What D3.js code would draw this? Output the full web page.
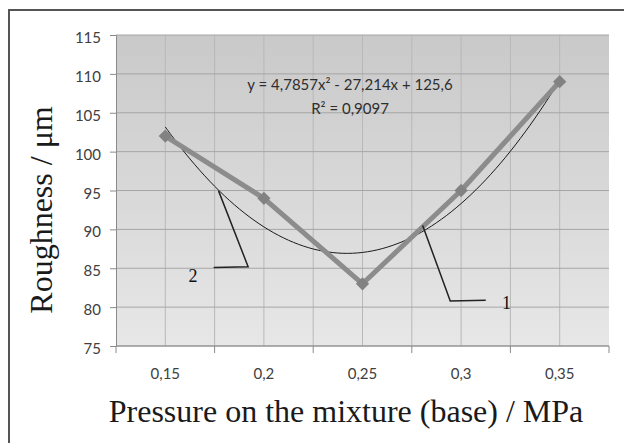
<!DOCTYPE html>
<html lang="en">
<head>
<meta charset="UTF-8">
<title>Roughness vs pressure</title>
<script src="https://d3js.org/d3.v7.min.js"></script>
<style>
    body { margin: 0; padding: 0; background: #fff; }
    svg { display: block; }
    .tick-label { font-family: Lato, "Open Sans", sans-serif; font-size: 15px; fill: #404040; }
    .title { font-family: "Liberation Serif", "DejaVu Serif", serif; font-size: 32px; fill: #1a1a1a; }
    .callout { font-family: "Liberation Serif", serif; font-size: 18px; fill: #111; }
</style>
</head>
<body>
<svg width="624" height="443"></svg>
<script>
    // data
    const categories = ["0,15", "0,2", "0,25", "0,3", "0,35"];
    const roughness = [102, 94, 83, 95, 109];
    const yTicks = [75, 80, 85, 90, 95, 100, 105, 110, 115];
    const trendCoef = [4.7857, -27.214, 125.6];   // a, b, c of the fitted polynomial
    const equationLines = ["y = 4,7857x² - 27,214x + 125,6", "R² = 0,9097"];
    // callout leaders in data units (category index, roughness)
    const callouts = [
        {label: "2", pts: [[1.54, 94.95], [1.84, 85.2], [1.49, 85.1]], text: [1.28, 83.2]},
        {label: "1", pts: [[3.61, 90.5], [3.89, 80.8], [4.25, 80.9]], text: [4.46, 79.8]}
    ];

    const svg = d3.select("svg");
    const plot = {left: 116, right: 609, top: 35, bottom: 346};

    const xBand = d3.scaleBand().domain(categories).range([plot.left, plot.right]);
    const xi = d3.scaleLinear().domain([0.5, categories.length + 0.5]).range([plot.left, plot.right]);
    const y = d3.scaleLinear().domain([75, 115]).range([plot.bottom, plot.top]);

    // outer frame
    svg.append("rect")
        .attr("x", 9).attr("y", 10)
        .attr("width", 700).attr("height", 500)
        .attr("fill", "none")
        .attr("stroke", "#555")
        .attr("stroke-width", 2);

    // plot area gradient
    const grad = svg.append("defs").append("linearGradient")
        .attr("id", "bg").attr("x1", 0).attr("y1", 0).attr("x2", 0).attr("y2", 1);
    grad.append("stop").attr("offset", "0%").attr("stop-color", "#c9c9c9");
    grad.append("stop").attr("offset", "100%").attr("stop-color", "#e7e7e7");

    svg.append("rect")
        .attr("x", plot.left).attr("y", plot.top)
        .attr("width", plot.right - plot.left)
        .attr("height", plot.bottom - plot.top)
        .attr("fill", "url(#bg)");

    // vertical gridlines every half category
    const vGrid = d3.range(1, categories.length + 0.01, 0.5);
    svg.append("g").selectAll("line")
        .data(vGrid).enter().append("line")
        .attr("x1", d => xi(d)).attr("x2", d => xi(d))
        .attr("y1", plot.top).attr("y2", plot.bottom)
        .attr("stroke", "#b8b8b8").attr("stroke-width", 1);

    // horizontal gridlines
    svg.append("g").selectAll("line")
        .data(yTicks).enter().append("line")
        .attr("x1", plot.left).attr("x2", plot.right)
        .attr("y1", d => y(d)).attr("y2", d => y(d))
        .attr("stroke", "#a6a6a6").attr("stroke-width", 1);

    // y axis
    const yAxis = svg.append("g")
        .attr("transform", `translate(${plot.left},0)`)
        .call(d3.axisLeft(y).tickValues(yTicks).tickSize(6).tickPadding(9).tickFormat(d3.format("d")));
    yAxis.select(".domain").attr("stroke", "#8a8a8a");
    yAxis.selectAll(".tick line").attr("stroke", "#8a8a8a");
    yAxis.selectAll(".tick text").attr("class", "tick-label").attr("dy", "0.5em");

    // x axis, ticks on category boundaries
    const xAxisG = svg.append("g").attr("transform", `translate(0,${plot.bottom})`);
    xAxisG.append("line")
        .attr("x1", plot.left).attr("x2", plot.right)
        .attr("stroke", "#8a8a8a");
    xAxisG.selectAll(".xt")
        .data(d3.range(0, categories.length + 1)).enter().append("line")
        .attr("x1", d => plot.left + d * xBand.step())
        .attr("x2", d => plot.left + d * xBand.step())
        .attr("y1", 0).attr("y2", 7)
        .attr("stroke", "#8a8a8a");
    xAxisG.selectAll("text")
        .data(categories).enter().append("text")
        .attr("class", "tick-label")
        .attr("x", d => xBand(d) + xBand.bandwidth() / 2)
        .attr("y", 33)
        .attr("text-anchor", "middle")
        .text(d => d);

    // polynomial trendline
    const trendX = d3.range(1, categories.length + 0.001, 0.05);
    const poly = t => trendCoef[0] * t * t + trendCoef[1] * t + trendCoef[2];
    svg.append("path")
        .datum(trendX)
        .attr("fill", "none")
        .attr("stroke", "#1a1a1a")
        .attr("stroke-width", 1)
        .attr("d", d3.line().x(t => xi(t)).y(t => y(poly(t))).curve(d3.curveBasis));

    // data series
    const series = roughness.map((v, i) => ({cat: categories[i], v}));
    const cx = d => xBand(d.cat) + xBand.bandwidth() / 2;
    svg.append("path")
        .datum(series)
        .attr("fill", "none")
        .attr("stroke", "#8c8c8c")
        .attr("stroke-width", 5)
        .attr("stroke-linejoin", "round")
        .attr("d", d3.line().x(cx).y(d => y(d.v)));

    svg.append("g").selectAll("path")
        .data(series).enter().append("path")
        .attr("d", d3.symbol().type(d3.symbolSquare).size(88))
        .attr("transform", d => `translate(${cx(d)},${y(d.v)}) rotate(45)`)
        .attr("fill", "#828282");

    // equation
    svg.append("g").selectAll("text")
        .data(equationLines).enter().append("text")
        .attr("class", "tick-label")
        .attr("x", 350)
        .attr("y", (d, i) => 90 + i * 24)
        .attr("text-anchor", "middle")
        .style("fill", "#2e2e2e")
        .text(d => d);

    // callouts
    callouts.forEach(c => {
        svg.append("path")
            .attr("fill", "none")
            .attr("stroke", "#222")
            .attr("stroke-width", 1.5)
            .attr("d", d3.line().x(p => xi(p[0])).y(p => y(p[1]))(c.pts));
        svg.append("text")
            .attr("class", "callout")
            .attr("x", xi(c.text[0]))
            .attr("y", y(c.text[1]))
            .attr("text-anchor", "middle")
            .text(c.label);
    });

    // axis titles
    svg.append("text")
        .attr("class", "title")
        .attr("transform", "translate(52,210) rotate(-90)")
        .attr("text-anchor", "middle")
        .text("Roughness / μm");

    svg.append("text")
        .attr("class", "title")
        .attr("x", 346).attr("y", 422)
        .attr("text-anchor", "middle")
        .text("Pressure on the mixture (base) / MPa");
</script>
</body>
</html>
